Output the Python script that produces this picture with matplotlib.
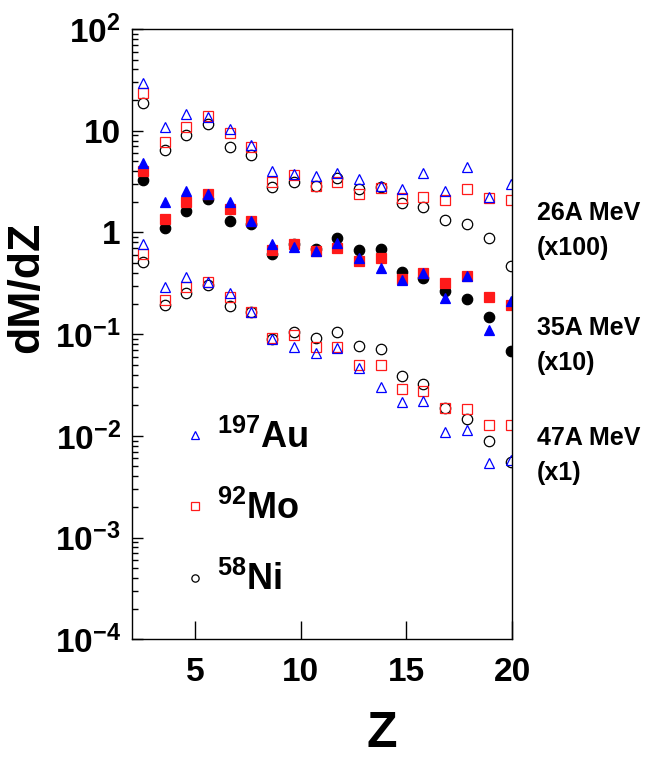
import matplotlib
matplotlib.use('Agg')
import matplotlib.pyplot as plt
from matplotlib.ticker import FixedLocator, LogLocator, NullFormatter

plt.rcParams['font.family'] = ['Liberation Sans', 'DejaVu Sans']
plt.rcParams['font.weight'] = 'bold'
plt.rcParams['mathtext.fontset'] = 'custom'
plt.rcParams['mathtext.rm'] = 'Liberation Sans:bold'
plt.rcParams['mathtext.it'] = 'Liberation Sans:bold'
plt.rcParams['mathtext.bf'] = 'Liberation Sans:bold'
plt.rcParams['mathtext.sf'] = 'Liberation Sans:bold'
plt.rcParams['mathtext.default'] = 'rm'

# x positions of the points (Z)
z = [2.52, 3.56, 4.59, 5.60, 6.64, 7.64, 8.66, 9.68, 10.70, 11.73,
     12.76, 13.78, 14.80, 15.81, 16.85, 17.88, 18.90, 19.93]

# 26A MeV (x100), open markers
au_26 = [29.6, 10.9, 14.5, 13.5, 10.5, 7.2, 4.0, 3.72, 3.59, 3.87,
         3.37, 2.88, 2.65, 3.87, 2.57, 4.43, 2.24, 2.99]
mo_26 = [23.7, 7.8, 10.8, 14.1, 9.55, 6.96, 3.11, 3.64, 2.86, 3.15,
         2.39, 2.74, 2.16, 2.23, 2.08, 2.65, 2.16, 2.08]
ni_26 = [18.6, 6.5, 9.07, 11.7, 6.87, 5.73, 2.81, 3.15, 2.86, 3.4,
         2.69, 2.81, 1.93, 1.77, 1.33, 1.20, 0.875, 0.47]

# 35A MeV (x10), filled markers
au_35 = [4.84, 1.98, 2.57, 2.39, 2.0, 1.29, 0.77, 0.72, 0.66, 0.78,
         0.556, 0.45, 0.34, 0.40, 0.228, 0.372, 0.111, 0.211]
mo_35 = [4.04, 1.36, 2.0, 2.37, 1.69, 1.31, 0.67, 0.77, 0.66, 0.70,
         0.52, 0.556, 0.348, 0.40, 0.32, 0.372, 0.233, 0.193]
ni_35 = [3.27, 1.11, 1.62, 2.12, 1.29, 1.21, 0.62, 0.77, 0.68, 0.875,
         0.67, 0.68, 0.41, 0.36, 0.266, 0.221, 0.146, 0.0687]

# 47A MeV (x1), open markers
au_47 = [0.77, 0.292, 0.362, 0.323, 0.252, 0.166, 0.0895, 0.074, 0.0647, 0.0724,
         0.047, 0.030, 0.0216, 0.0221, 0.011, 0.0114, 0.00537, 0.00578]
mo_47 = [0.614, 0.216, 0.288, 0.323, 0.23, 0.166, 0.091, 0.098, 0.074, 0.075,
         0.050, 0.050, 0.0286, 0.0277, 0.019, 0.0182, 0.0128, 0.0128]
ni_47 = [0.515, 0.193, 0.252, 0.304, 0.189, 0.166, 0.089, 0.106, 0.092, 0.104,
         0.076, 0.071, 0.039, 0.032, 0.0186, 0.0145, 0.0089, 0.0055]

x_ticks = [5, 10, 15, 20]
y_ticks = [1e-4, 1e-3, 1e-2, 1e-1, 1, 10, 100]
y_tick_labels = [r'$10^{-4}$', r'$10^{-3}$', r'$10^{-2}$', r'$10^{-1}$', '1', '10', r'$10^{2}$']
legend_labels = [r'$^{197}$Au', r'$^{92}$Mo', r'$^{58}$Ni']
energy_labels = [('26A MeV', '(x100)'), ('35A MeV', '(x10)'), ('47A MeV', '(x1)')]

BLUE = '#0000ff'
RED = '#ff1a1a'
BLACK = '#000000'

fig = plt.figure(figsize=(6.57, 7.63), dpi=100)
ax = fig.add_axes([0.2005, 0.1621, 0.5788, 0.7999])

ms = 7.5
mew = 0.9
# 26A MeV
ax.plot(z, ni_26, 'o', ls='none', ms=ms, mfc='none', mec=BLACK, mew=mew)
ax.plot(z, mo_26, 's', ls='none', ms=ms, mfc='none', mec=RED, mew=mew)
ax.plot(z, au_26, '^', ls='none', ms=ms, mfc='none', mec=BLUE, mew=mew)
# 35A MeV
ax.plot(z, ni_35, 'o', ls='none', ms=ms, mfc=BLACK, mec=BLACK, mew=mew)
ax.plot(z, mo_35, 's', ls='none', ms=ms, mfc=RED, mec=RED, mew=mew)
ax.plot(z, au_35, '^', ls='none', ms=ms, mfc=BLUE, mec=BLUE, mew=mew)
# 47A MeV
h_ni, = ax.plot(z, ni_47, 'o', ls='none', ms=ms, mfc='none', mec=BLACK, mew=mew)
h_mo, = ax.plot(z, mo_47, 's', ls='none', ms=ms, mfc='none', mec=RED, mew=mew)
h_au, = ax.plot(z, au_47, '^', ls='none', ms=ms, mfc='none', mec=BLUE, mew=mew)

ax.set_yscale('log')
ax.set_xlim(2, 20)
ax.set_ylim(1e-4, 1e2)

ax.xaxis.set_major_locator(FixedLocator(x_ticks))
ax.xaxis.set_minor_locator(FixedLocator([]))
ax.set_xticklabels([str(t) for t in x_ticks])
ax.yaxis.set_major_locator(FixedLocator(y_ticks))
ax.set_yticklabels(y_tick_labels)
ax.yaxis.set_minor_locator(LogLocator(base=10, subs=range(2, 10), numticks=20))
ax.yaxis.set_minor_formatter(NullFormatter())

ax.tick_params(axis='x', which='major', direction='in', length=13, width=1,
               labelsize=24, pad=13, top=False)
ax.tick_params(axis='y', which='major', direction='in', length=8, width=1,
               labelsize=24, pad=8, right=False)
ax.tick_params(axis='y', which='minor', direction='in', length=4.5, width=1, right=False)
for lab in ax.get_xticklabels() + ax.get_yticklabels():
    lab.set_fontweight('bold')

for s in ax.spines.values():
    s.set_linewidth(1.0)

ax.set_ylabel('dM/dZ', fontsize=32, fontweight='bold')
ax.yaxis.set_label_coords(-0.223, 0.577)
ax.set_xlabel('Z', fontsize=36, fontweight='bold')
ax.xaxis.set_label_coords(0.658, -0.117)

leg = ax.legend([h_au, h_mo, h_ni], legend_labels, loc='upper left',
                bbox_to_anchor=(0.138, 0.360), frameon=False, fontsize=26,
                handlelength=0.6, handletextpad=0.3, borderpad=0, borderaxespad=0,
                labelspacing=0.97, markerscale=0.7)
for t in leg.get_texts():
    t.set_fontweight('bold')

ys = [(0.687, 0.630), (0.4986, 0.4413), (0.3184, 0.261)]
for (l1, l2), (y1, y2) in zip(energy_labels, ys):
    ax.text(1.065, y1, l1, transform=ax.transAxes, fontsize=18, fontweight='bold',
            va='baseline', ha='left', clip_on=False)
    ax.text(1.065, y2, l2, transform=ax.transAxes, fontsize=18, fontweight='bold',
            va='baseline', ha='left', clip_on=False)

fig.savefig('out.png', dpi=100)
